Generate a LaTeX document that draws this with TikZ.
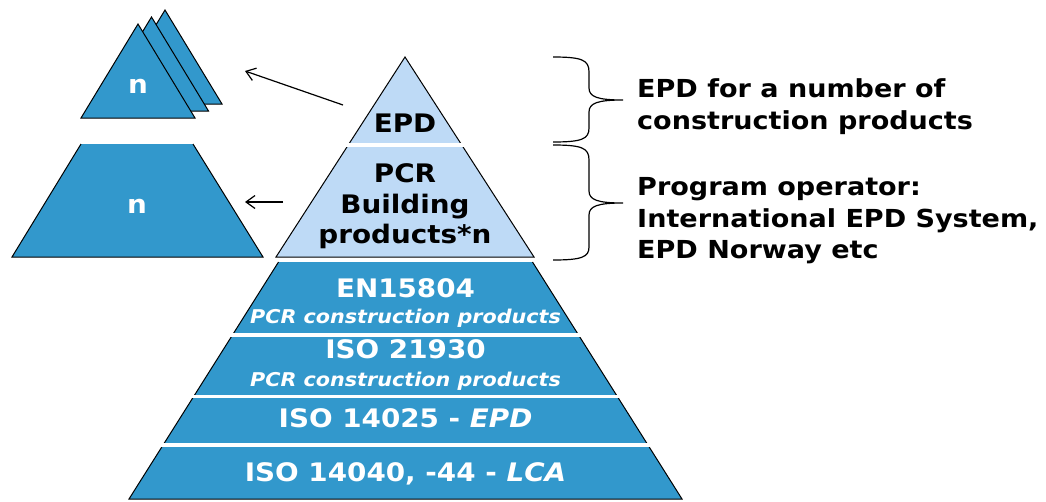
\documentclass[tikz,border=0pt]{standalone}
\usepackage{fontspec}
\setmainfont{DejaVu Sans}[FakeStretch=1.09]
\usetikzlibrary{arrows.meta}

\definecolor{tierdark}{RGB}{50,152,204}
\definecolor{tierlight}{RGB}{190,218,246}

\tikzset{
  darkshape/.style={draw=black,line width=1pt,fill=tierdark},
  lightshape/.style={draw=black,line width=1pt,fill=tierlight},
  edgeline/.style={draw=black,line width=1pt},
  sepline/.style={draw=white,line width=3.5pt},
  bracepath/.style={draw=black,line width=1.2pt},
  arrowline/.style={draw=black,line width=1.2pt},
  bigtext/.style={anchor=base,inner sep=0pt,font=\fontsize{25.5}{30}\selectfont\bfseries},
  smalltext/.style={anchor=base,inner sep=0pt,text=white,font=\fontsize{19}{22}\selectfont\bfseries\itshape},
  sidetext/.style={anchor=base west,inner sep=0pt,font=\fontsize{24.8}{30}\selectfont\bfseries}
}

\begin{document}
\begin{tikzpicture}[x=1pt,y=-1pt,>={Straight Barb[length=9pt,width=13pt]}]

\useasboundingbox (0,0) rectangle (1046,501);

%SMALL PYRAMIDS
\draw[darkshape] (165,10) -- (222,104) -- (108,104) -- cycle;
\draw[darkshape] (151.5,17) -- (208.5,111) -- (94.5,111) -- cycle;
\draw[darkshape] (138,24) -- (195,118) -- (81,118) -- cycle;
\node[bigtext,text=white](ntri) at (138,93) {n};

\fill[tierdark] (81,144) -- (193,144) -- (263,257) -- (12,257) -- cycle;
\draw[edgeline] (81,144) -- (12,257) -- (263,257) -- (193,144);
\node[bigtext,text=white](ntrap) at (137,213) {n};

%MAIN PYRAMID
\draw[lightshape] (405,57) -- (534,257) -- (276,257) -- cycle;
\draw[sepline] (345,145) -- (465,145);

\fill[tierdark] (278.5,262) -- (532.5,262) -- (682,499) -- (129,499) -- cycle;
\draw[edgeline] (278.5,262) -- (129,499) -- (682,499) -- (532.5,262);
\draw[sepline] (230,335) -- (581,335);
\draw[sepline] (191,396.5) -- (620,396.5);
\draw[sepline] (160,445) -- (651,445);

\node[bigtext](epd) at (405,132) {EPD};
\node[bigtext](pcr) at (405,182) {PCR};
\node[bigtext](bld) at (405,213) {Building};
\node[bigtext](prod) at (405,243) {products*n};

\node[bigtext,text=white](en) at (405.5,297) {EN15804};
\node[smalltext](encp) at (405.5,323) {PCR construction products};
\node[bigtext,text=white](isoa) at (405.5,358) {ISO 21930};
\node[smalltext](isoacp) at (405.5,386) {PCR construction products};
\node[bigtext,text=white](isob) at (405.5,427) {ISO 14025 - \textit{EPD}};
\node[bigtext,text=white](isoc) at (405.5,481) {ISO 14040, -44 - \textit{LCA}};

%ARROWS
\coordinate (epdfrom) at (343,105);
\coordinate (trito) at (245,71);
\coordinate (pcrfrom) at (283,202);
\coordinate (trapto) at (245,202);

\draw[->,arrowline] (epdfrom) -- (trito);
\draw[->,arrowline] (pcrfrom) -- (trapto);

%BRACES
\draw[bracepath] (553,57) .. controls (582,57) and (589,60) .. (589,72) -- (589,88)
  .. controls (589,97) and (598,100) .. (623,100)
  .. controls (598,100) and (589,103) .. (589,112) -- (589,128)
  .. controls (589,139) and (582,142) .. (553,142);
\draw[bracepath] (553,145) .. controls (582,145) and (589,148) .. (589,160) -- (589,191)
  .. controls (589,200) and (598,203) .. (623,203)
  .. controls (598,203) and (589,206) .. (589,215) -- (589,247)
  .. controls (589,257) and (582,260) .. (553,260);

\node[sidetext](epdnum) at (637,97) {EPD for a number of};
\node[sidetext](epdcon) at (637,129) {construction products};
\node[sidetext](progop) at (637,195) {Program operator:};
\node[sidetext](intsys) at (637,227) {International EPD System,};
\node[sidetext](norway) at (637,258) {EPD Norway etc};

\end{tikzpicture}
\end{document}
